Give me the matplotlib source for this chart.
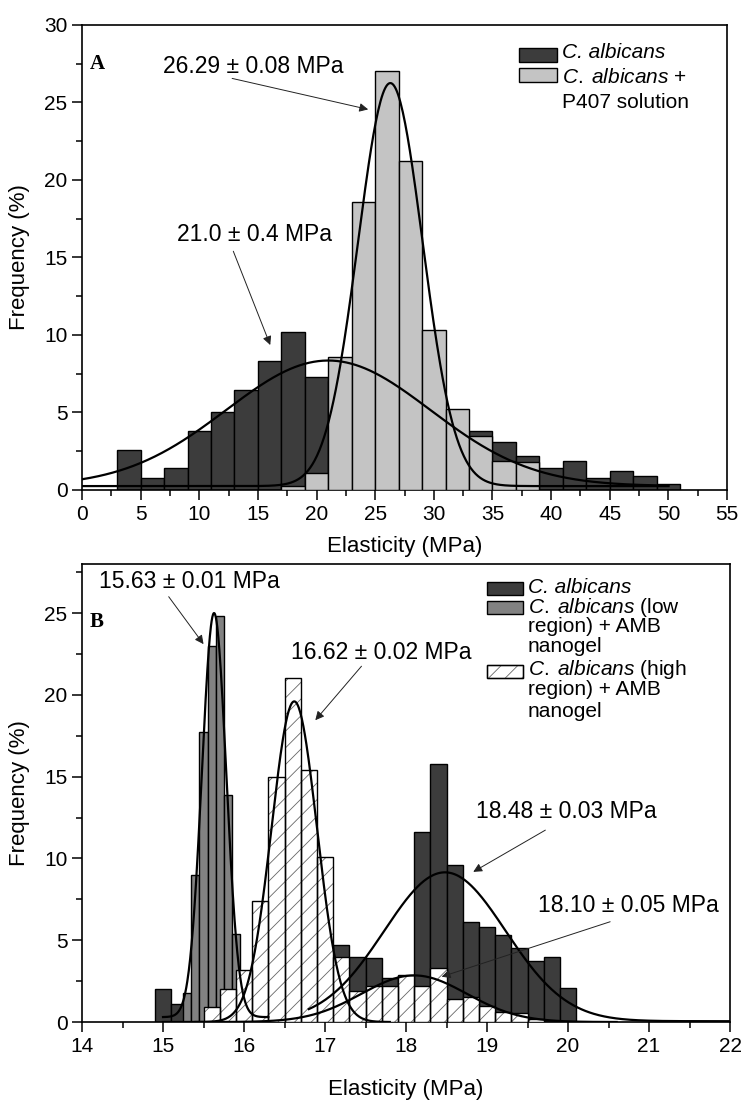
import numpy as np
import matplotlib
matplotlib.use("Agg")
import matplotlib.pyplot as plt
from matplotlib.patches import Rectangle

plt.rcParams['font.family'] = ['Liberation Sans', 'DejaVu Sans']
plt.rcParams['mathtext.fontset'] = 'custom'
plt.rcParams['mathtext.rm'] = 'Liberation Sans'
plt.rcParams['mathtext.it'] = 'Liberation Sans:italic'
plt.rcParams['hatch.linewidth'] = 0.6

# ---- panel A: C. albicans vs C. albicans + P407 (bin width 2 MPa)
a_dark_x = [4, 6, 8, 10, 12, 14, 16, 18, 20, 22, 24, 26, 28, 30, 32, 34, 36, 38, 40, 42, 44, 46, 48, 50]
a_dark_y = [2.6, 0.75, 1.4, 3.8, 5.0, 6.45, 8.3, 10.2, 7.3, 7.0, 6.0, 5.0, 4.5, 3.5, 3.0, 3.8, 3.1, 2.2, 1.4, 1.9, 0.75, 1.2, 0.9, 0.4]
a_light_x = [18, 20, 22, 24, 26, 28, 30, 32, 34, 36, 38]
a_light_y = [0.25, 1.1, 8.6, 18.6, 27.0, 21.2, 10.3, 5.2, 3.5, 1.9, 1.8]

# gaussian fits: (y0, xc, w, A)
a_fit_dark = (0.25, 21.0, 8.7, 8.1)
a_fit_light = (0.25, 26.29, 2.75, 26.0)

# ---- panel B: AMB nanogel (dark/hatched bins 0.2 MPa, low region bins 0.1 MPa)
b_dark_x = [15.0, 15.2, 17.2, 17.4, 17.6, 17.8, 18.0, 18.2, 18.4, 18.6, 18.8, 19.0, 19.2, 19.4, 19.6, 19.8, 20.0]
b_dark_y = [2.0, 1.1, 4.7, 4.0, 3.9, 2.7, 2.8, 11.6, 15.8, 9.6, 6.1, 5.8, 5.3, 4.5, 3.7, 3.95, 2.1]
b_low_x = [15.3, 15.4, 15.5, 15.6, 15.7, 15.8, 15.9]
b_low_y = [1.75, 9.0, 17.7, 23.0, 24.8, 13.9, 5.4]
b_high_x = [15.6, 15.8, 16.0, 16.2, 16.4, 16.6, 16.8, 17.0, 17.2, 17.4, 17.6, 17.8, 18.0,
            18.2, 18.4, 18.6, 18.8, 19.0, 19.2, 19.4, 19.6]
b_high_y = [0.9, 2.0, 3.2, 7.4, 15.0, 21.0, 15.4, 10.1, 4.0, 1.9, 2.2, 2.2, 2.9,
            2.2, 3.3, 1.4, 1.5, 1.0, 0.6, 0.55, 0.2]

b_fit_low = (0.3, 15.63, 0.15, 24.7)
b_fit_high1 = (0.0, 16.62, 0.28, 19.6)
b_fit_dark = (0.05, 18.48, 0.75, 9.1)
b_fit_high2 = (0.0, 18.10, 0.65, 2.85)

DARK = '#3c3c3c'
LIGHT = '#c4c4c4'
MID = '#828282'


def gauss(x, y0, xc, w, A):
    return y0 + A * np.exp(-(x - xc) ** 2 / (2 * w ** 2))


def style_axes(ax):
    for s in ax.spines.values():
        s.set_linewidth(1.2)
    ax.tick_params(which='both', direction='out', top=False, right=False,
                   labelsize=15, width=1.1)
    ax.tick_params(which='major', length=7)
    ax.tick_params(which='minor', length=4)
    ax.set_xlabel('Elasticity (MPa)', fontsize=16)
    ax.set_ylabel('Frequency (%)', fontsize=16)
    ax.yaxis.set_label_coords(-0.081, 0.5)


def label_arrow(ax, text, xy, xytext, textpos):
    ax.annotate('', xy=xy, xytext=xytext,
                arrowprops=dict(arrowstyle='-|>', lw=0.7, color='#222222',
                                mutation_scale=13, shrinkA=0, shrinkB=0), zorder=6)
    ax.text(textpos[0], textpos[1], text, fontsize=16.5, ha='center', va='center', zorder=6)


def legend_box(ax, x, y, w, h, **kw):
    ax.add_patch(Rectangle((x, y), w, h, transform=ax.transAxes, clip_on=False,
                           lw=1.0, zorder=7, **kw))


fig = plt.figure(figsize=(7.41, 11.08), dpi=100)

# ---------------- panel A
axA = fig.add_axes([0.1107, 0.5578, 0.8704, 0.4197])
axA.bar(a_dark_x, a_dark_y, width=2, color=DARK, edgecolor='black', lw=1.0, zorder=2)
axA.bar(a_light_x, a_light_y, width=2, color=LIGHT, edgecolor='black', lw=1.0, zorder=3)
xa = np.linspace(0, 50, 500)
axA.plot(xa, gauss(xa, *a_fit_dark), color='black', lw=1.6, zorder=4)
axA.plot(xa, gauss(xa, *a_fit_light), color='black', lw=1.6, zorder=4)
axA.set_xlim(0, 55)
axA.set_ylim(0, 30)
axA.set_xticks(np.arange(0, 56, 5))
axA.set_xticks(np.arange(0, 55, 2.5), minor=True)
axA.set_yticks(np.arange(0, 31, 5))
axA.set_yticks(np.arange(0, 30, 2.5), minor=True)
style_axes(axA)
axA.xaxis.set_label_coords(0.5, -0.1)

label_arrow(axA, '26.29 ± 0.08 MPa', (24.4, 24.55), (12.8, 26.55), (14.6, 27.3))
label_arrow(axA, '21.0 ± 0.4 MPa', (16.05, 9.35), (12.9, 15.4), (14.7, 16.45))
axA.text(0.012, 0.915, 'A', transform=axA.transAxes, fontsize=15,
         fontweight='bold', family='Liberation Serif', va='center')

legend_box(axA, 0.6775, 0.9204, 0.0589, 0.0301, facecolor=DARK, edgecolor='black')
legend_box(axA, 0.6775, 0.8774, 0.0589, 0.0301, facecolor=LIGHT, edgecolor='black')
axA.text(0.744, 0.9398, 'C. albicans', transform=axA.transAxes, fontsize=15,
         style='italic', va='center')
axA.text(0.744, 0.888, r'$\mathit{C.\;albicans}$ +', transform=axA.transAxes,
         fontsize=15, va='center')
axA.text(0.744, 0.834, 'P407 solution', transform=axA.transAxes, fontsize=15, va='center')

# ---------------- panel B
axB = fig.add_axes([0.1107, 0.0776, 0.8745, 0.4134])
axB.bar(b_dark_x, b_dark_y, width=0.2, color=DARK, edgecolor='black', lw=1.0, zorder=2)
axB.bar(b_low_x, b_low_y, width=0.1, color=MID, edgecolor='black', lw=1.0, zorder=3)
axB.bar(b_high_x, b_high_y, width=0.2, color='white', edgecolor='#666666', hatch='//',
        lw=0, zorder=4)
axB.bar(b_high_x, b_high_y, width=0.2, fill=False, edgecolor='black', lw=1.0, zorder=4)

xl = np.linspace(15.0, 16.3, 300)
axB.plot(xl, gauss(xl, *b_fit_low), color='black', lw=1.6, zorder=5)
xh = np.linspace(15.0, 17.8, 300)
axB.plot(xh, gauss(xh, *b_fit_high1), color='black', lw=1.6, zorder=5)
xd = np.linspace(16.8, 22.0, 400)
axB.plot(xd, gauss(xd, *b_fit_dark), color='black', lw=1.6, zorder=5)
xh2 = np.linspace(15.4, 20.6, 400)
axB.plot(xh2, gauss(xh2, *b_fit_high2), color='black', lw=1.6, zorder=5)

axB.set_xlim(14, 22)
axB.set_ylim(0, 28)
axB.set_xticks(np.arange(14, 22.1, 1))
axB.set_xticks(np.arange(14, 22, 0.5), minor=True)
axB.set_yticks(np.arange(0, 26, 5))
axB.set_yticks(np.arange(0, 28, 2.5), minor=True)
style_axes(axB)
axB.xaxis.set_label_coords(0.5, -0.125)

label_arrow(axB, '15.63 ± 0.01 MPa', (15.50, 23.1), (15.07, 26.0), (15.32, 26.9))
label_arrow(axB, '16.62 ± 0.02 MPa', (16.88, 18.45), (17.45, 21.75), (17.69, 22.6))
label_arrow(axB, '18.48 ± 0.03 MPa', (18.83, 9.18), (19.72, 11.73), (19.98, 12.85))
label_arrow(axB, '18.10 ± 0.05 MPa', (18.44, 2.77), (20.52, 6.13), (20.75, 7.15))
axB.text(0.012, 0.874, 'B', transform=axB.transAxes, fontsize=15,
         fontweight='bold', family='Liberation Serif', va='center')

legend_box(axB, 0.625, 0.9323, 0.0556, 0.0284, facecolor=DARK, edgecolor='black')
legend_box(axB, 0.625, 0.8908, 0.0556, 0.0284, facecolor=MID, edgecolor='black')
legend_box(axB, 0.625, 0.7511, 0.0556, 0.0284, facecolor='white', edgecolor='#666666',
           hatch='//')
legend_box(axB, 0.625, 0.7511, 0.0556, 0.0284, fill=False, edgecolor='black')
b_leg = [(0.9476, 'C. albicans', 'italic'),
         (0.906, r'$\mathit{C.\;albicans}$ (low', 'normal'),
         (0.8624, 'region) + AMB', 'normal'),
         (0.8188, 'nanogel', 'normal'),
         (0.7686, r'$\mathit{C.\;albicans}$ (high', 'normal'),
         (0.7249, 'region) + AMB', 'normal'),
         (0.6769, 'nanogel', 'normal')]
for yy, txt, st in b_leg:
    axB.text(0.688, yy, txt, transform=axB.transAxes, fontsize=15, style=st, va='center')

fig.savefig('out.png', dpi=100)
